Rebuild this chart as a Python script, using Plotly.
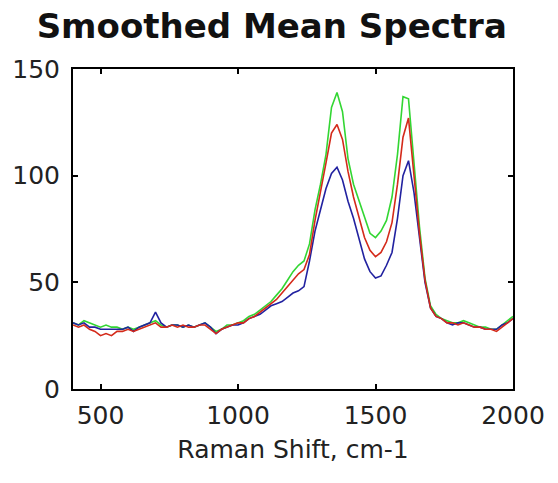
import plotly.graph_objects as go

# Raman shift (cm-1)
shift = [400, 420, 440, 460, 480, 500, 520, 540, 560, 580,
         600, 620, 640, 660, 680, 700, 720, 740, 760, 780,
         800, 820, 840, 860, 880, 900, 920, 940, 960, 980,
         1000, 1020, 1040, 1060, 1080, 1100, 1120, 1140, 1160, 1180,
         1200, 1220, 1240, 1260, 1280, 1300, 1320, 1340, 1360, 1380,
         1400, 1420, 1440, 1460, 1480, 1500, 1520, 1540, 1560, 1580,
         1600, 1620, 1640, 1660, 1680, 1700, 1720, 1740, 1760, 1780,
         1800, 1820, 1840, 1860, 1880, 1900, 1920, 1940, 1960, 1980, 2000]

green_mean = [31, 30, 32, 31, 30, 29, 30, 29, 29, 28,
              29, 28, 29, 30, 31, 32, 30, 29, 30, 30,
              29, 30, 29, 30, 31, 29, 27, 28, 30, 30,
              31, 32, 34, 35, 37, 39, 41, 44, 47, 51,
              55, 58, 60, 68, 84, 96, 110, 132, 139, 130,
              108, 96, 88, 80, 73, 71, 74, 79, 90, 110,
              137, 136, 104, 76, 52, 39, 35, 33, 32, 31,
              31, 32, 31, 30, 29, 29, 28, 28, 30, 32, 34]

red_mean = [30, 29, 30, 28, 27, 25, 26, 25, 27, 27,
            28, 27, 28, 29, 30, 31, 29, 29, 30, 29,
            30, 29, 29, 30, 30, 28, 26, 28, 29, 30,
            31, 31, 33, 34, 36, 38, 40, 42, 45, 48,
            51, 54, 56, 63, 79, 92, 106, 120, 124, 117,
            102, 90, 80, 71, 65, 62, 64, 69, 78, 96,
            118, 127, 100, 73, 51, 38, 34, 33, 31, 31,
            30, 31, 30, 29, 29, 28, 28, 27, 29, 31, 33]

blue_mean = [31, 30, 31, 29, 29, 28, 28, 28, 28, 28,
             29, 27, 29, 30, 31, 36, 31, 29, 30, 30,
             29, 30, 29, 30, 31, 29, 26, 28, 29, 30,
             30, 31, 33, 34, 35, 37, 39, 40, 41, 43,
             45, 46, 48, 60, 74, 84, 94, 101, 104, 98,
             88, 80, 70, 61, 55, 52, 53, 58, 64, 80,
             100, 107, 92, 70, 50, 38, 34, 33, 31, 30,
             31, 31, 30, 29, 29, 28, 28, 28, 30, 31, 33]

x_ticks = [500, 1000, 1500, 2000]
y_ticks = [0, 50, 100, 150]

fig = go.Figure()
fig.add_trace(go.Scatter(x=shift, y=green_mean, mode="lines",
                         line=dict(color="#33d633", width=1.6), showlegend=False))
fig.add_trace(go.Scatter(x=shift, y=blue_mean, mode="lines",
                         line=dict(color="#2222a0", width=1.6), showlegend=False))
fig.add_trace(go.Scatter(x=shift, y=red_mean, mode="lines",
                         line=dict(color="#d42a1a", width=1.6), showlegend=False))

axis_font = dict(family="DejaVu Sans", size=25, color="#222222")

fig.update_layout(
    width=558, height=483,
    margin=dict(l=71, r=45, t=69, b=94),
    paper_bgcolor="white", plot_bgcolor="white",
    title=dict(text="<b>Smoothed Mean Spectra</b>", x=0.487, xanchor="center",
               y=0.945, yanchor="middle",
               font=dict(family="DejaVu Sans", size=34, color="#111111")),
    xaxis=dict(range=[400, 2000], tickvals=x_ticks, ticktext=[str(v) for v in x_ticks],
               ticks="inside", ticklen=5, tickwidth=1.5, tickcolor="black",
               showline=True, linecolor="black", linewidth=2, mirror="ticks",
               showgrid=False, zeroline=False, tickfont=axis_font,
               ticklabelstandoff=3,
               title=dict(text="Raman Shift, cm-1", font=axis_font, standoff=11)),
    yaxis=dict(range=[0, 150], tickvals=y_ticks, ticktext=[str(v) for v in y_ticks],
               ticks="inside", ticklen=5, tickwidth=1.5, tickcolor="black",
               showline=True, linecolor="black", linewidth=2, mirror="ticks",
               showgrid=False, zeroline=False, tickfont=axis_font,
               ticklabelstandoff=6),
)

fig.write_html("out.html",
               config={"displayModeBar": False},
               post_script="document.body.style.margin='0';document.body.style.overflow='hidden';")
